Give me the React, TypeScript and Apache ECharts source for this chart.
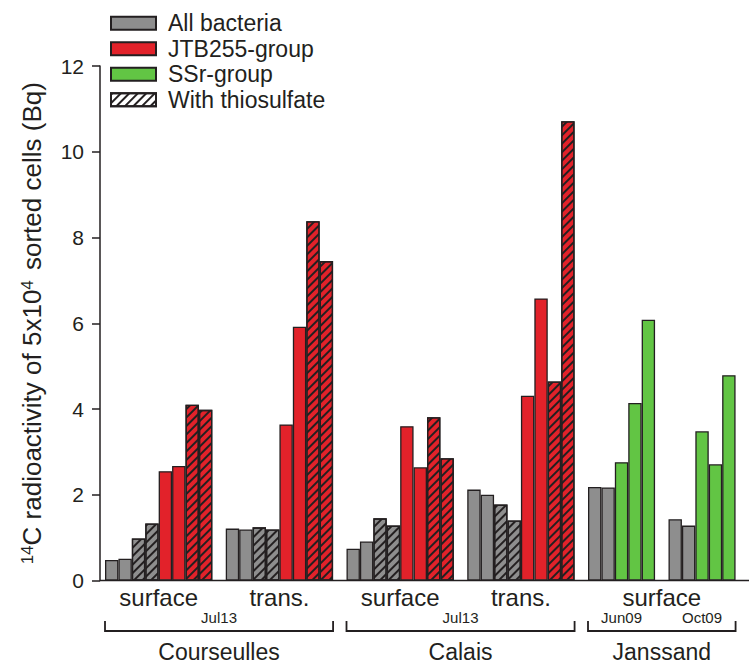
import React, { useEffect, useRef } from 'react';
import * as echarts from 'echarts';

// ---- data (Bq) ----
const courseullesSurface = [0.48, 0.51, 0.98, 1.33, 2.55, 2.67, 4.1, 3.98];
const courseullesTrans = [1.21, 1.19, 1.24, 1.19, 3.64, 5.92, 8.38, 7.45];
const calaisSurface = [0.74, 0.91, 1.45, 1.28, 3.6, 2.64, 3.81, 2.85];
const calaisTrans = [2.12, 2.0, 1.77, 1.4, 4.31, 6.58, 4.64, 10.71];
const janssandJun = [2.18, 2.17, 2.76, 4.14, 6.08];
const janssandOct = [1.43, 1.28, 3.48, 2.71, 4.79];

type Kind = 'all' | 'allT' | 'jtb' | 'jtbT' | 'ssr';
const julKinds: Kind[] = ['all', 'all', 'allT', 'allT', 'jtb', 'jtb', 'jtbT', 'jtbT'];
const janKinds: Kind[] = ['all', 'all', 'ssr', 'ssr', 'ssr'];

const groupValues = [courseullesSurface, courseullesTrans, calaisSurface, calaisTrans, janssandJun, janssandOct];
const groupKinds = [julKinds, julKinds, julKinds, julKinds, janKinds, janKinds];

const legendNames = ['All bacteria', 'JTB255-group', 'SSr-group', 'With thiosulfate'];
const habitatLabels = [
  { text: 'surface', groups: [0] },
  { text: 'trans.', groups: [1] },
  { text: 'surface', groups: [2] },
  { text: 'trans.', groups: [3] },
  { text: 'surface', groups: [4, 5] },
];
const dateLabels = [
  { text: 'Jul13', groups: [0, 1] },
  { text: 'Jul13', groups: [2, 3] },
  { text: 'Jun09', groups: [4] },
  { text: 'Oct09', groups: [5] },
];
const siteLabels = [
  { text: 'Courseulles', groups: [0, 1] },
  { text: 'Calais', groups: [2, 3] },
  { text: 'Janssand', groups: [4, 5] },
];
const yMin = 0;
const yMax = 12;
const yInterval = 2;

const GRAY = '#8e8e8e';
const RED = '#e2222a';
const GREEN = '#62c544';
const INK = '#231f20';
const FONT = '"Liberation Sans", Arial, Helvetica, sans-serif';

// build slots (bars + one empty slot between groups + trailing slot)
const categories: string[] = [];
const slotKind: (Kind | null)[] = [];
const slotValue: (number | null)[] = [];
const groupRange: [number, number][] = [];
groupValues.forEach((vals, g) => {
  const start = categories.length;
  vals.forEach((v, i) => {
    categories.push(`g${g}-${i}`);
    slotKind.push(groupKinds[g][i]);
    slotValue.push(v);
  });
  groupRange.push([start, categories.length - 1]);
  categories.push(`gap${g}`);
  slotKind.push(null);
  slotValue.push(null);
});

const pick = (k: Kind) => slotValue.map((v, i) => (slotKind[i] === k ? v : '-'));
const hatchData = slotValue.map((v, i) => {
  const k = slotKind[i];
  if (k === 'allT') return { value: v, itemStyle: { color: GRAY } };
  if (k === 'jtbT') return { value: v, itemStyle: { color: RED } };
  return '-';
});

const decal = {
  symbol: 'rect',
  symbolSize: 1,
  dashArrayX: [1, 0],
  dashArrayY: [1.4, 3.6],
  rotation: -Math.PI / 4,
  color: INK,
};

export default function App() {
  const ref = useRef<HTMLDivElement>(null);
  useEffect(() => {
    document.body.style.margin = '0';
    const chart = echarts.init(ref.current!, null, { renderer: 'svg' });
    const border = { borderColor: INK, borderWidth: 1.3 };
    const barCommon = { type: 'bar', stack: 's', barWidth: '100%', barCategoryGap: '0%' };
    chart.setOption({
      animation: false,
      backgroundColor: '#ffffff',
      grid: { left: 105, right: 0, top: 66, bottom: 83.5 },
      legend: {
        data: legendNames,
        orient: 'vertical',
        left: 110,
        top: 10.5,
        padding: 0,
        icon: 'rect',
        itemWidth: 45,
        itemHeight: 13,
        itemGap: 0,
        selectedMode: false,
        textStyle: { fontSize: 23, color: INK, fontFamily: FONT, lineHeight: 25.5, padding: [0, 0, 0, 7] },
      },
      xAxis: {
        type: 'category',
        data: categories,
        axisLine: { show: false },
        axisTick: { show: false },
        axisLabel: { show: false },
        splitLine: { show: false },
      },
      yAxis: {
        type: 'value',
        min: yMin,
        max: yMax,
        interval: yInterval,
        offset: 5,
        axisLine: { show: true, lineStyle: { color: INK, width: 1.5 } },
        axisTick: { show: true, length: 8, lineStyle: { color: INK, width: 1.5 } },
        axisLabel: { fontSize: 21, color: INK, fontFamily: FONT, margin: 16 },
        splitLine: { show: false },
        name: '{sup|14}C radioactivity of 5x10{sup|4} {n|sorted cells (Bq)}',
        nameLocation: 'middle',
        nameRotate: 90,
        nameGap: 55,
        nameTextStyle: {
          fontSize: 26,
          color: INK,
          fontFamily: FONT,
          rich: {
            sup: { fontSize: 17, color: INK, fontFamily: FONT, verticalAlign: 'top' },
            n: { fontSize: 26, color: INK, fontFamily: FONT, padding: [0, 0, 0, 3] },
          },
        },
      },
      series: [
        { ...barCommon, name: 'All bacteria', data: pick('all'), itemStyle: { color: GRAY, ...border } },
        { ...barCommon, name: 'JTB255-group', data: pick('jtb'), itemStyle: { color: RED, ...border } },
        { ...barCommon, name: 'SSr-group', data: pick('ssr'), itemStyle: { color: GREEN, ...border } },
        { ...barCommon, name: 'With thiosulfate', data: hatchData, itemStyle: { color: '#ffffff', decal, ...border } },
      ],
    });

    const px = (i: number) => chart.convertToPixel({ xAxisIndex: 0 }, i) as number;
    const y0 = chart.convertToPixel({ yAxisIndex: 0 }, 0) as number;
    const slot = px(1) - px(0);
    const leftOf = (g: number) => px(groupRange[g][0]) - slot / 2;
    const rightOf = (g: number) => px(groupRange[g][1]) + slot / 2;
    const centerOf = (gs: number[]) => (leftOf(gs[0]) + rightOf(gs[gs.length - 1])) / 2;
    const txt = (x: number, y: number, text: string, size: number) => ({
      type: 'text',
      x,
      y,
      style: { text, fontSize: size, fontFamily: FONT, fill: INK, align: 'center', verticalAlign: 'middle' },
    });
    const graphics: any[] = [];
    graphics.push({ type: 'line', shape: { x1: 100, y1: y0, x2: 749, y2: y0 }, style: { stroke: INK, lineWidth: 1.5 } });
    habitatLabels.forEach((h) => graphics.push(txt(centerOf(h.groups), y0 + 17, h.text, 24)));
    dateLabels.forEach((d) => graphics.push(txt(centerOf(d.groups), y0 + 37, d.text, 15)));
    const bracketY = y0 + 50.5;
    siteLabels.forEach((s) => {
      const a = leftOf(s.groups[0]);
      const b = rightOf(s.groups[s.groups.length - 1]);
      graphics.push({
        type: 'polyline',
        shape: { points: [[a, bracketY - 10], [a, bracketY], [b, bracketY], [b, bracketY - 10]] },
        style: { stroke: INK, lineWidth: 1.8, fill: null },
      });
      graphics.push(txt(centerOf(s.groups), y0 + 71, s.text, 23));
    });
    chart.setOption({ graphic: graphics });

    return () => chart.dispose();
  }, []);
  return <div ref={ref} style={{ position: 'fixed', left: 0, top: 0, width: 749, height: 664 }} />;
}
